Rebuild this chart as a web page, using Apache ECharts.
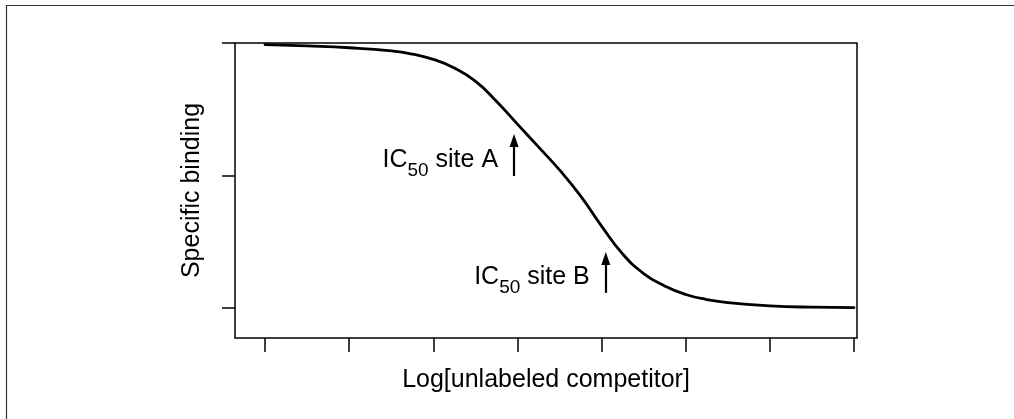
<!DOCTYPE html>
<html>
<head>
<meta charset="utf-8">
<script src="https://cdn.jsdelivr.net/npm/echarts@6/dist/echarts.min.js"></script>
<style>
  html, body { margin: 0; padding: 0; background: #fff; }
  #chart { width: 1014px; height: 419px; }
</style>
</head>
<body>
<div id="chart"></div>
<script>
// Competition binding curve: log concentration of competitor vs specific binding (%)
const logConc = [0, 0.5, 1, 1.5, 1.75, 2, 2.25, 2.5, 2.75, 3, 3.25, 3.5, 3.75, 4, 4.25, 4.5, 4.75, 5, 5.25, 5.5, 6, 6.5, 7];
const binding = [99.4, 98.9, 98.2, 97.0, 95.8, 93.8, 90.6, 85.6, 78.0, 69.4, 60.8, 52.1, 42.3, 30.9, 20.4, 13.0, 8.3, 5.1, 3.2, 2.0, 0.8, 0.3, 0.15];

// Axis ticks (unlabelled)
const xTicks = [0, 1, 2, 3, 4, 5, 6, 7];
const yTicks = [0, 50, 100];

// IC50 markers: arrow base / head positions and captions
const siteNames = ['site A', 'site B'];
const arrowX = [2.96, 4.05];
const arrowBase = [49.8, 5.7];
const arrowHead = [63.2, 18.7];

const FONT = '"Liberation Sans", Arial, Helvetica, sans-serif';

const curve = logConc.map((x, i) => [x, binding[i]]);
const arrows = arrowX.map((x, i) => [{ coord: [x, arrowBase[i]] }, { coord: [x, arrowHead[i]] }]);
const captionPts = arrowX.map((x, i) => [x, arrowBase[i]]);

const chart = echarts.init(document.getElementById('chart'), null, { renderer: 'canvas' });

chart.setOption({
  animation: false,
  backgroundColor: '#fff',
  textStyle: { fontFamily: FONT, color: '#000' },
  graphic: [{
    type: 'rect',
    z: -10,
    shape: { x: 6.5, y: 5.5, width: 1200, height: 600 },
    style: { fill: null, stroke: '#333', lineWidth: 1.2 },
    silent: true
  }],
  grid: [
    // plot frame
    { left: 235, right: 157, top: 43, bottom: 81, show: true, borderColor: '#000', borderWidth: 1.5, backgroundColor: 'transparent' },
    // data region spanned by the ticks
    { left: 265, right: 160, top: 43, bottom: 111 }
  ],
  xAxis: [
    {
      gridIndex: 0, type: 'value', min: 0, max: 1,
      axisLine: { show: false, onZero: false }, axisTick: { show: false }, axisLabel: { show: false }, splitLine: { show: false },
      name: 'Log[unlabeled competitor]', nameLocation: 'middle', nameGap: 30,
      nameTextStyle: { fontSize: 25, fontFamily: FONT, color: '#000' }
    },
    {
      gridIndex: 1, type: 'value', min: xTicks[0], max: xTicks[xTicks.length - 1], interval: 1,
      position: 'bottom', offset: 30,
      axisLine: { show: false, onZero: false },
      axisTick: { show: true, inside: false, length: 14, lineStyle: { color: '#000', width: 1.5 } },
      axisLabel: { show: false }, splitLine: { show: false }
    }
  ],
  yAxis: [
    {
      gridIndex: 0, type: 'value', min: 0, max: 1,
      axisLine: { show: false, onZero: false }, axisTick: { show: false }, axisLabel: { show: false }, splitLine: { show: false },
      name: 'Specific binding', nameLocation: 'middle', nameGap: 30, nameRotate: 90,
      nameTextStyle: { fontSize: 25, fontFamily: FONT, color: '#000' }
    },
    {
      gridIndex: 1, type: 'value', min: yTicks[0], max: yTicks[yTicks.length - 1], interval: 50,
      position: 'left', offset: 30,
      axisLine: { show: false, onZero: false },
      axisTick: { show: true, inside: false, length: 13, lineStyle: { color: '#000', width: 1.5 } },
      axisLabel: { show: false }, splitLine: { show: false }
    }
  ],
  series: [
    {
      name: 'Specific binding',
      type: 'line',
      xAxisIndex: 1, yAxisIndex: 1,
      data: curve,
      smooth: 0.5,
      showSymbol: false,
      clip: false,
      lineStyle: { color: '#000', width: 2.8, cap: 'round' },
      silent: true
    },
    {
      name: 'IC50',
      type: 'scatter',
      xAxisIndex: 1, yAxisIndex: 1,
      data: captionPts,
      symbolSize: 0,
      itemStyle: { color: '#000', opacity: 1 },
      silent: true,
      label: {
        show: true,
        position: 'left',
        distance: 16,
        offset: [0, -12],
        color: '#000',
        opacity: 1,
        formatter: p => '{m|IC}{s|50}{m| ' + siteNames[p.dataIndex] + '}',
        rich: {
          m: { fontSize: 25, fontFamily: FONT, color: '#000', padding: [0, 0, 8, 0], verticalAlign: 'bottom' },
          s: { fontSize: 19, fontFamily: FONT, color: '#000', verticalAlign: 'bottom' }
        }
      },
      markLine: {
        silent: true,
        symbol: ['none', 'triangle'],
        symbolSize: [9, 13],
        label: { show: false },
        lineStyle: { color: '#000', width: 2.2, type: 'solid', opacity: 1 },
        itemStyle: { color: '#000', opacity: 1 },
        emphasis: { disabled: true },
        data: arrows
      }
    }
  ]
});
</script>
</body>
</html>
